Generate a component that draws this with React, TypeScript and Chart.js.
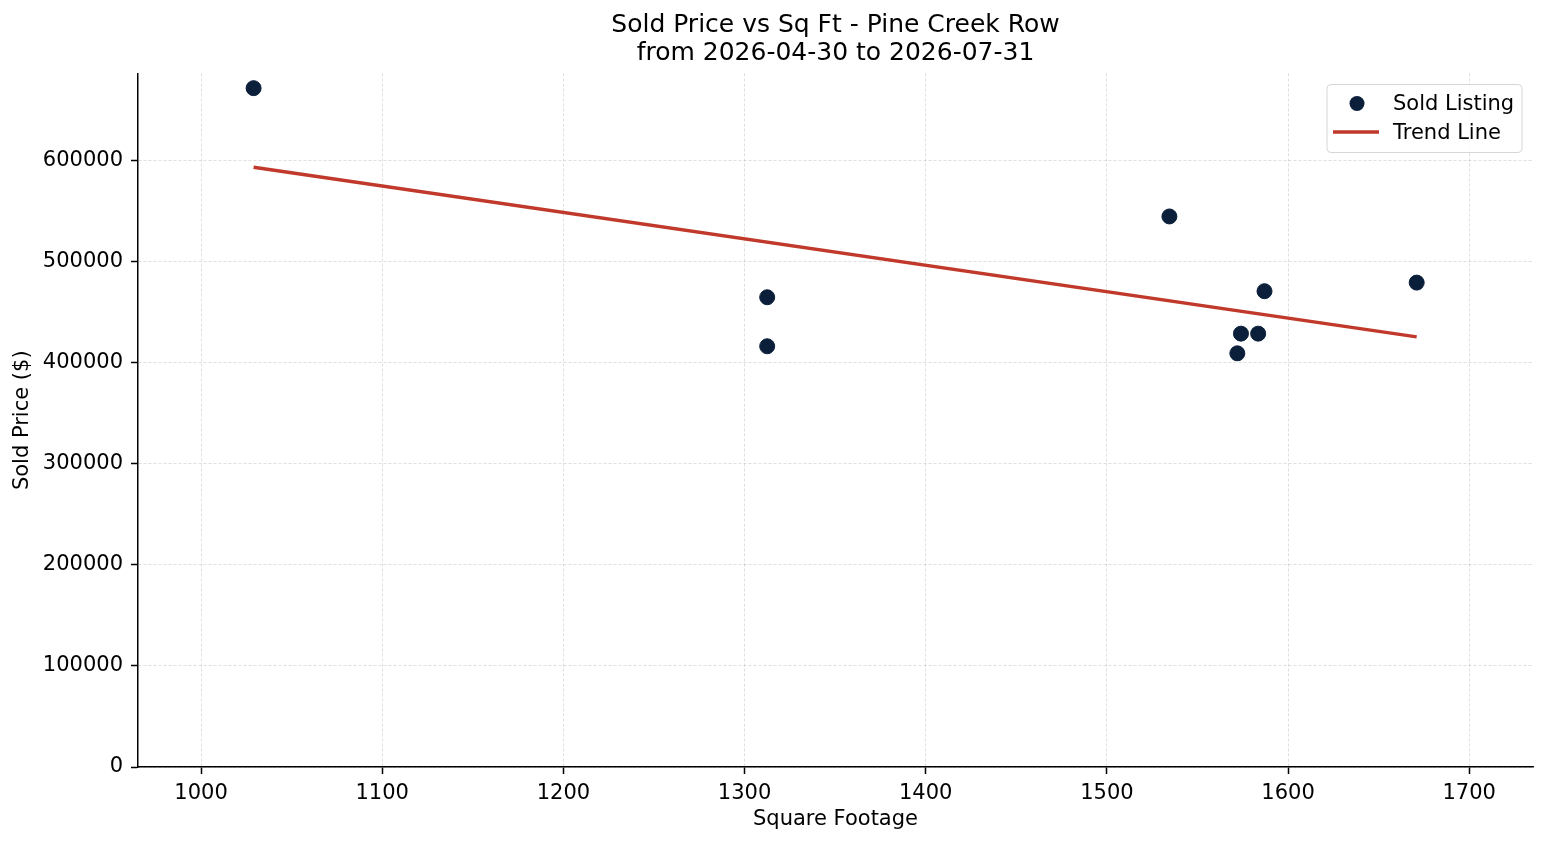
import { useEffect, useRef } from 'react';
import { Chart, ChartConfiguration, Plugin, registerables } from 'chart.js';

Chart.register(...registerables);

// Sold listings (sq ft, sold price)
const sqft = [1029, 1312.5, 1312.5, 1534.5, 1572, 1574, 1583.5, 1587, 1671];
const prices = [672000, 465000, 416500, 545000, 409500, 429000, 429000, 471000, 479500];

// Trend line end points (as drawn in the reference)
const trendSqft = [1029, 1671];
const trendPrices = [593800, 425800];

const xTicks = [1000, 1100, 1200, 1300, 1400, 1500, 1600, 1700];
const yTicks = [0, 100000, 200000, 300000, 400000, 500000, 600000];

const FONT = "'DejaVu Sans', sans-serif";
const POINT_COLOR = '#0b1f3a';
const TREND_COLOR = '#c0392b';

// matplotlib-style legend box in the upper right of the plot area
const boxLegend: Plugin<'scatter'> = {
  id: 'boxLegend',
  afterDraw(chart) {
    const { ctx, chartArea } = chart;
    const w = 195;
    const h = 68;
    const x = chartArea.right - 11 - w;
    const y = chartArea.top + 11;
    ctx.save();
    ctx.globalAlpha = 0.8;
    ctx.fillStyle = '#ffffff';
    ctx.strokeStyle = '#cccccc';
    ctx.lineWidth = 1;
    ctx.beginPath();
    ctx.roundRect(x, y, w, h, 4);
    ctx.fill();
    ctx.stroke();
    ctx.globalAlpha = 1;

    const rows = chart.data.datasets.map((d) => d.label as string);
    ctx.font = `21px ${FONT}`;
    ctx.textBaseline = 'middle';
    ctx.textAlign = 'left';

    // row 1: marker
    const r1 = y + 19;
    ctx.beginPath();
    ctx.fillStyle = POINT_COLOR;
    ctx.arc(x + 30, r1, 7.5, 0, Math.PI * 2);
    ctx.fill();
    ctx.fillStyle = '#000';
    ctx.fillText(rows[0], x + 66, r1 + 1.5);

    // row 2: line
    const r2 = y + 47.5;
    ctx.beginPath();
    ctx.strokeStyle = TREND_COLOR;
    ctx.lineWidth = 3.5;
    ctx.moveTo(x + 6, r2);
    ctx.lineTo(x + 52, r2);
    ctx.stroke();
    ctx.fillText(rows[1], x + 66, r2 + 1.5);
    ctx.restore();
  },
};

export default function App() {
  const canvasRef = useRef<HTMLCanvasElement>(null);
  const chartRef = useRef<Chart | null>(null);

  useEffect(() => {
    document.body.style.margin = '0';
    if (!canvasRef.current) return;
    if (chartRef.current) chartRef.current.destroy();

    const gridOpts = {
      color: 'rgba(0,0,0,0.16)',
      lineWidth: 0.8,
      tickLength: 7,
      tickColor: '#000',
      tickWidth: 1.5,
      tickBorderDash: [1, 0],
    };

    const config: ChartConfiguration<'scatter'> = {
      type: 'scatter',
      data: {
        datasets: [
          {
            label: 'Sold Listing',
            data: sqft.map((x, i) => ({ x, y: prices[i] })),
            backgroundColor: POINT_COLOR,
            borderColor: POINT_COLOR,
            pointRadius: 7.5,
            pointHoverRadius: 7.5,
            order: 1,
          },
          {
            label: 'Trend Line',
            type: 'line',
            data: trendSqft.map((x, i) => ({ x, y: trendPrices[i] })),
            borderColor: TREND_COLOR,
            borderWidth: 3.5,
            pointRadius: 0,
            showLine: true,
            fill: false,
            order: 2,
          } as any,
        ],
      },
      options: {
        responsive: false,
        animation: false,
        layout: { padding: { left: 0, right: 14, top: 0, bottom: 0 } },
        plugins: {
          legend: { display: false },
          tooltip: { enabled: false },
          title: {
            display: true,
            fullSize: false,
            text: ['Sold Price vs Sq Ft - Pine Creek Row', 'from 2026-04-30 to 2026-07-31'],
            color: '#000',
            font: { family: FONT, size: 25, weight: 'normal', lineHeight: 1.12 },
            padding: { top: 11.5, bottom: 6 },
          },
        },
        scales: {
          x: {
            type: 'linear',
            min: 965.2,
            max: 1735.2,
            afterFit: (scale) => {
              scale.height = 78;
            },
            afterBuildTicks: (scale) => {
              scale.ticks = xTicks.map((value) => ({ value }));
            },
            ticks: {
              color: '#000',
              font: { family: FONT, size: 21 },
              padding: 7,
              maxRotation: 0,
              callback: (v) => String(v),
            },
            grid: gridOpts,
            border: { display: true, color: '#000', width: 1.5, dash: [3, 2] },
            title: {
              display: true,
              text: 'Square Footage',
              color: '#000',
              font: { family: FONT, size: 21 },
              padding: { top: 0, bottom: 13 },
            },
          },
          y: {
            type: 'linear',
            min: 0,
            max: 686500,
            afterFit: (scale) => {
              scale.width = 138;
            },
            afterBuildTicks: (scale) => {
              scale.ticks = yTicks.map((value) => ({ value }));
            },
            ticks: {
              color: '#000',
              font: { family: FONT, size: 21 },
              padding: 8,
              callback: (v) => String(v),
            },
            grid: gridOpts,
            border: { display: true, color: '#000', width: 1.5, dash: [3, 2] },
            title: {
              display: true,
              text: 'Sold Price ($)',
              color: '#000',
              font: { family: FONT, size: 21 },
              padding: { top: 10, bottom: 0 },
            },
          },
        },
      },
      plugins: [boxLegend],
    };

    chartRef.current = new Chart(canvasRef.current, config as any);
    return () => {
      chartRef.current?.destroy();
      chartRef.current = null;
    };
  }, []);

  return (
    <div style={{ width: 1547, height: 845, background: '#fff' }}>
      <canvas ref={canvasRef} width={1547} height={845} style={{ display: 'block' }} />
    </div>
  );
}
